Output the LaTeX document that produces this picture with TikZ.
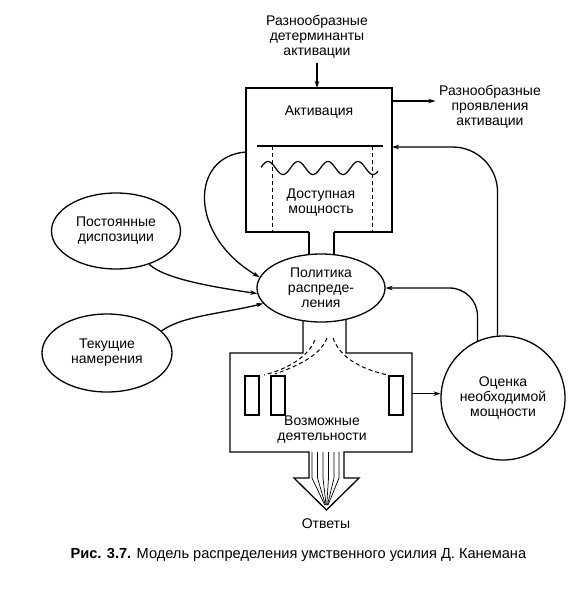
\documentclass[tikz,border=0pt]{standalone}
\usepackage{fontspec}
\setmainfont{Liberation Sans}
\usetikzlibrary{arrows.meta,shapes.geometric,calc}
\begin{document}
\begin{tikzpicture}[x=1pt,y=-1pt,
  line width=1.3pt,
  txt/.style={font=\fontsize{14}{15}\selectfont, align=center, inner sep=0pt},
  arr/.style={-{Stealth[length=7pt,width=4.5pt]}},
  oval/.style={draw, ellipse, inner sep=0pt, fill=white},
  dsh/.style={line width=1pt, dash pattern=on 4pt off 3pt},
  blank/.style={inner sep=0pt, outer sep=0pt},
  slot/.style={draw, minimum width=14pt, minimum height=39pt, inner sep=0pt}
]
\useasboundingbox (0,0) rectangle (575,592);

% top text and activation box
\node[txt] (det) at (317,37) {Разнообразные\\детерминанты\\активации};
\node[blank, minimum width=146pt, minimum height=144pt] (act) at (319,160) {};
\draw (309,232) -- (act.south west) -- (act.north west) -- (act.north east) -- (act.south east) -- (334,232);
\node[txt] (actl) at (319,112) {Активация};
\draw (257,146) -- (383,146);
\draw[dsh] (272,146) -- (272,232);
\draw[dsh] (372,146) -- (372,232);
\draw[line width=1.2pt] plot[domain=261:378, samples=120, smooth] (\x, {168 - 6.5*cos((\x-268)*12)});
\node[txt] (dost) at (321,203) {Доступная\\мощность};
\draw[arr] ([yshift=-4pt]det.south) -- (det.south |- act.north);

% right text
\node[txt] (prov) at (490,107) {Разнообразные\\проявления\\активации};
\draw[arr] (act.east |- 0,101) -- ([xshift=-3pt]prov.west |- 0,101);

% politics ellipse
\node[oval, txt, minimum width=128pt, minimum height=68pt] (pol) at (321,288) {Политика\\распреде-\\ления};
\draw (309,232) -- (309,254.6);
\draw (334,232) -- (334,254.7);

% lower box with hatched arrow
\node[blank, minimum width=182pt, minimum height=99pt] (low) at (321,402.5) {};
\draw[line join=miter] (303,320.6) -- (303,353) -- (low.north west) -- (low.south west) -- (309,452) -- (309,478) -- (294,478) -- (326.5,510) -- (359,478) -- (344,478) -- (344,452) -- (low.south east) -- (low.north east) -- (346,353) -- (346,319.3);
\foreach \xx in {312,317.5,323,328.5,334,339}
  \draw[line width=0.7pt] (\xx,452) -- (\xx,478) -- ({326.5+(\xx-326.5)*0.12},505);
\node[slot] (r1) at (252,395.5) {};
\node[slot] (r2) at (278,395.5) {};
\node[slot] (r3) at (396,395.5) {};
\draw[dsh] (315,340) .. controls (307,358) and (287,369) .. (264,375);
\draw[dsh] (327,338) .. controls (320,356) and (297,366) .. (275,374);
\draw[dsh] (333,338) .. controls (341,360) and (365,370) .. (388,375);
\node[txt] (voz) at (322,430) {Возможные\\деятельности};
\node[txt] (otv) at (326,524) {Ответы};

% left ellipses
\node[oval, txt, minimum width=129pt, minimum height=76pt] (post) at (116,231) {Постоянные\\диспозиции};
\node[oval, txt, minimum width=130pt, minimum height=78pt] (tek) at (107,353) {Текущие\\намерения};
\draw[arr] (post.-45) .. controls +(15,15) and +(-40,-6) .. (pol.185);
\draw[arr] (tek.22) .. controls +(20,-15) and +(-40,10) .. (pol.195);
\draw[arr] ($(act.north west)+(0,64)$) .. controls (190,156) and (188,235) .. (pol.170);

% circle
\node[draw, circle, txt, minimum size=124pt] (cir) at (503,398) {Оценка\\необходимой\\мощности};
\draw[arr, rounded corners=45pt] (cir.95) |- (act.east |- 0,147);
\draw[arr, rounded corners=28pt] (cir.114) |- (pol.east);
\draw[arr] (low.east |- cir.176) -- (cir.176);

% caption
\node[anchor=west, inner sep=0pt, font=\fontsize{14.6}{16}\selectfont] (cap) at (70,555) {\textbf{Рис. 3.7.} Модель распределения умственного усилия Д. Канемана};
\end{tikzpicture}
\end{document}
